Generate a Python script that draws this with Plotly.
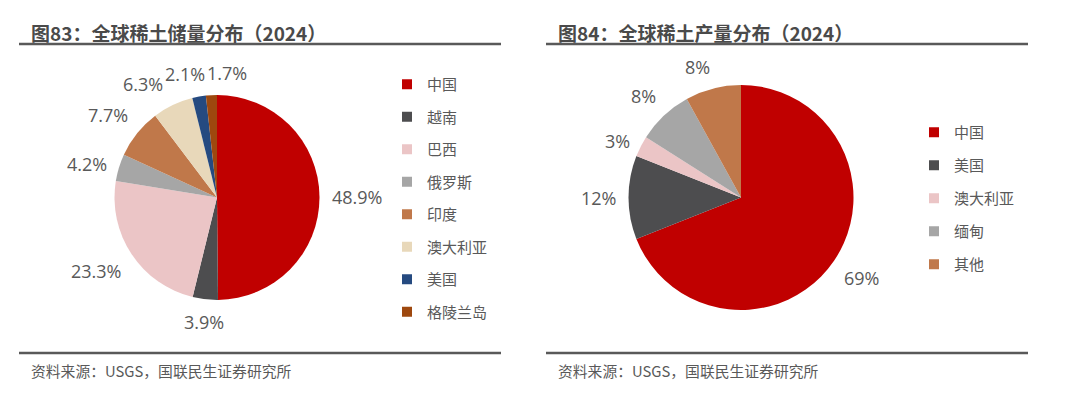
import math
import plotly.graph_objects as go

# ---- data ----
reserve_labels = ["中国", "越南", "巴西", "俄罗斯", "印度", "澳大利亚", "美国", "格陵兰岛"]
reserve_values = [48.9, 3.9, 23.3, 4.2, 7.7, 6.3, 2.1, 1.7]
reserve_colors = ["#C00000", "#4D4D4F", "#EBC5C6", "#A6A6A6", "#C0784A", "#E8D8BA", "#254A80", "#9E480E"]

output_labels = ["中国", "美国", "澳大利亚", "缅甸", "其他"]
output_values = [69, 12, 3, 8, 8]
output_colors = ["#C00000", "#4D4D4F", "#EBC5C6", "#A6A6A6", "#C0784A"]

title_left = "图83：全球稀土储量分布（2024）"
title_right = "图84：全球稀土产量分布（2024）"
source_text = "资料来源：USGS，国联民生证券研究所"

# page body has an 8px margin; figure fills the rest of the 1080x396 window
OFF = 8
W, H = 1080 - OFF, 396 - OFF
FONT = "Open Sans, Noto Sans CJK SC, sans-serif"
CJK = "Noto Sans CJK SC, sans-serif"
GRAY = "#595959"
LABEL_SIZE = 18


def px_x(x):
    return (x - OFF) / W


def px_y(y):
    return (396 - y) / H


def text_width(s, size):
    w = 0
    for ch in s:
        if ch.isdigit():
            w += 0.572
        elif ch == ".":
            w += 0.27
        elif ch == "%":
            w += 0.82
        else:
            w += 0.6
    return w * size


def pie_labels(values, cx, cy, r, d=12, size=LABEL_SIZE):
    """Excel-like outside-end labels: anchored beyond the slice mid-angle, then de-overlapped."""
    total = float(sum(values))
    boxes = []
    cum = 0.0
    for v in values:
        mid = (cum + v / 2) / total * 2 * math.pi
        cum += v
        s, c = math.sin(mid), math.cos(mid)
        ax, ay = cx + (r + d) * s, cy - (r + d) * c
        txt = f"{v}%"
        w, h = text_width(txt, size), size * 1.15
        if s > 0.2:
            x_c = ax + w / 2
        elif s < -0.2:
            x_c = ax - w / 2
        else:
            x_c = ax
        if c > 0.5:
            y_c = ay - h / 2
        elif c < -0.5:
            y_c = ay + h / 2
        else:
            y_c = ay
        boxes.append([x_c, y_c, w, h, txt])
    for _ in range(30):
        moved = False
        for i in range(len(boxes)):
            for j in range(i + 1, len(boxes)):
                a, b = boxes[i], boxes[j]
                ox = (a[2] + b[2]) / 2 + 2 - abs(a[0] - b[0])
                oy = (a[3] + b[3]) / 2 - abs(a[1] - b[1])
                if ox > 0 and oy > 0:
                    sgn = 1 if b[0] >= a[0] else -1
                    a[0] -= sgn * ox / 2
                    b[0] += sgn * ox / 2
                    moved = True
        if not moved:
            break
    anns = []
    for x_c, y_c, w, h, txt in boxes:
        anns.append(dict(text=txt, x=px_x(x_c), y=px_y(y_c), xref="paper", yref="paper",
                         xanchor="center", yanchor="middle", showarrow=False,
                         font=dict(family=FONT, size=size, color=GRAY)))
    return anns


fig = go.Figure()

LCX, LCY, LR = 217, 197.5, 102.5
RCX, RCY, RR = 741, 197.5, 112.5

fig.add_trace(go.Pie(
    labels=reserve_labels, values=reserve_values,
    textinfo="none", sort=False, direction="clockwise", rotation=0,
    marker=dict(colors=reserve_colors, line=dict(width=0)),
    domain=dict(x=[px_x(LCX - LR), px_x(LCX + LR)],
                y=[px_y(LCY + LR), px_y(LCY - LR)]),
    showlegend=False, hoverinfo="label+percent",
))

fig.add_trace(go.Pie(
    labels=output_labels, values=output_values,
    textinfo="none", sort=False, direction="clockwise", rotation=0,
    marker=dict(colors=output_colors, line=dict(width=0)),
    domain=dict(x=[px_x(RCX - RR), px_x(RCX + RR)],
                y=[px_y(RCY + RR), px_y(RCY - RR)]),
    showlegend=False, hoverinfo="label+percent",
))

# legend entries (one per category, separate groups so they can be spaced)
for lab, col in zip(reserve_labels, reserve_colors):
    fig.add_trace(go.Scatter(
        x=[None], y=[None], mode="markers", name=lab,
        marker=dict(symbol="square", size=10, color=col),
        legend="legend", legendgroup="L" + lab, showlegend=True,
    ))
for lab, col in zip(output_labels, output_colors):
    fig.add_trace(go.Scatter(
        x=[None], y=[None], mode="markers", name=lab,
        marker=dict(symbol="square", size=10, color=col),
        legend="legend2", legendgroup="R" + lab, showlegend=True,
    ))

legend_common = dict(
    font=dict(family=CJK, size=15, color=GRAY),
    bgcolor="rgba(0,0,0,0)", borderwidth=0,
    xanchor="left", yanchor="top",
    itemclick=False, itemdoubleclick=False,
)

shapes = []
for x0, x1 in [(19, 501), (546, 1028)]:
    for y in (44, 353):
        shapes.append(dict(type="line", xref="paper", yref="paper",
                           x0=px_x(x0), x1=px_x(x1), y0=px_y(y), y1=px_y(y),
                           line=dict(color=GRAY, width=2.5)))

annotations = []
for txt, x in [(title_left, 29), (title_right, 556)]:
    annotations.append(dict(text=f"<b>{txt}</b>", x=px_x(x), y=px_y(32), xref="paper", yref="paper",
                            xanchor="left", yanchor="middle", showarrow=False,
                            font=dict(family=CJK, size=19, color="#4A4A4A")))
for x in (29, 556):
    annotations.append(dict(text=source_text, x=px_x(x), y=px_y(370), xref="paper", yref="paper",
                            xanchor="left", yanchor="middle", showarrow=False,
                            font=dict(family=CJK, size=14.8, color=GRAY)))
annotations += pie_labels(reserve_values, LCX, LCY, LR)
annotations += pie_labels(output_values, RCX, RCY, RR)

fig.update_layout(
    width=W, height=H, margin=dict(l=0, r=0, t=0, b=0),
    paper_bgcolor="white", plot_bgcolor="white",
    xaxis=dict(visible=False), yaxis=dict(visible=False),
    legend=dict(x=px_x(387), y=px_y(68), tracegroupgap=10, **legend_common),
    legend2=dict(x=px_x(914), y=px_y(116), tracegroupgap=10.5, **legend_common),
    shapes=shapes, annotations=annotations,
)

fig.write_html("out.html")
